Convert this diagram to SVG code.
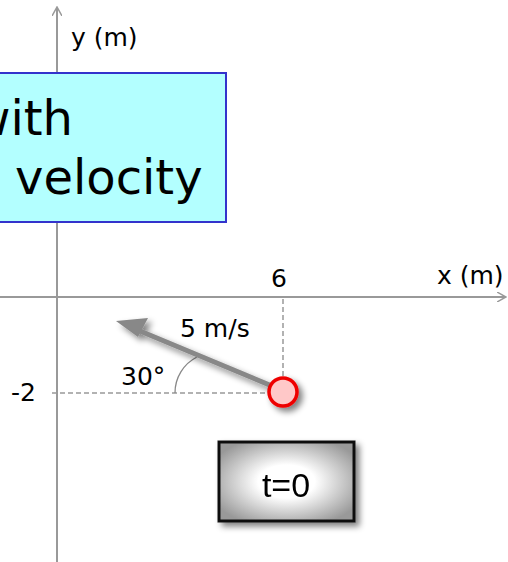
<svg xmlns="http://www.w3.org/2000/svg" width="508" height="562" viewBox="0 0 508 562">
<style>
.axis{stroke:#999;stroke-width:2;fill:none}
.dash{stroke:#999;stroke-width:1.5;stroke-dasharray:5,3;fill:none}
.lbl{font-family:"Comic Sans MS","DejaVu Sans",sans-serif;font-size:25px;fill:#000}
.big{font-family:"Comic Sans MS","DejaVu Sans",sans-serif;font-size:48px;fill:#000}
</style>
<defs>
<marker id="ah" markerWidth="10" markerHeight="10" refX="8" refY="5" orient="auto" markerUnits="userSpaceOnUse">
<path d="M0,0 L9,5 L0,10" fill="none" stroke="#999" stroke-width="1.5"/>
</marker>
<filter id="sh" x="-50%" y="-50%" width="200%" height="200%">
<feGaussianBlur in="SourceAlpha" stdDeviation="3"/>
<feOffset dx="4" dy="4" result="b"/>
<feComponentTransfer><feFuncA type="linear" slope="0.5"/></feComponentTransfer>
<feMerge><feMergeNode/><feMergeNode in="SourceGraphic"/></feMerge>
</filter>
<radialGradient id="tg" cx="50%" cy="50%" r="60%">
<stop offset="0.35" stop-color="#ffffff"/>
<stop offset="1" stop-color="#999"/>
</radialGradient>
</defs>
<g id="connectors">
<line class="axis" x1="57" y1="562" x2="57" y2="8" marker-end="url(#ah)"/>
<line class="axis" x1="0" y1="297" x2="505" y2="297" marker-end="url(#ah)"/>
<line class="dash" x1="283" y1="299" x2="283" y2="378"/>
<line class="dash" x1="52" y1="393" x2="270" y2="393"/>
<path d="M175,393 A40,40 0 0 1 197,357" fill="none" stroke="#888" stroke-width="1.3"/>
</g>
<g id="y-label"><text class="lbl" x="71" y="46">y (m)</text></g>
<g id="x-label"><text class="lbl" x="437" y="284">x (m)</text></g>
<g id="tick-6"><text class="lbl" x="271" y="287">6</text></g>
<g id="tick-2"><text class="lbl" x="11" y="401">-2</text></g>
<g id="title">
<rect x="-2" y="73" width="228" height="149" fill="#b3ffff" stroke="#3333cc" stroke-width="2"/>
<text class="big" x="73" y="135" text-anchor="end">with</text>
<text class="big" x="15" y="194">velocity</text>
</g>
<g id="velocity" filter="url(#sh)">
<line x1="272" y1="386" x2="128" y2="326" stroke="#888" stroke-width="5"/>
<path d="M116,321 L148,318 L138,337 Z" fill="#888"/>
</g>
<g id="speed-label"><text class="lbl" x="180" y="337">5 m/s</text></g>
<g id="angle-label"><text class="lbl" x="121" y="385">30°</text></g>
<g id="particle">
<circle cx="283" cy="392" r="14" fill="#ffc8c8" stroke="#ee0000" stroke-width="3.5" filter="url(#sh)"/>
</g>
<g id="time" filter="url(#sh)">
<rect x="219" y="442" width="135" height="79" fill="url(#tg)" stroke="#111" stroke-width="3"/>
<text x="286" y="497" text-anchor="middle" font-family="Liberation Sans, sans-serif" font-size="34" fill="#000">t=0</text>
</g>
</svg>
